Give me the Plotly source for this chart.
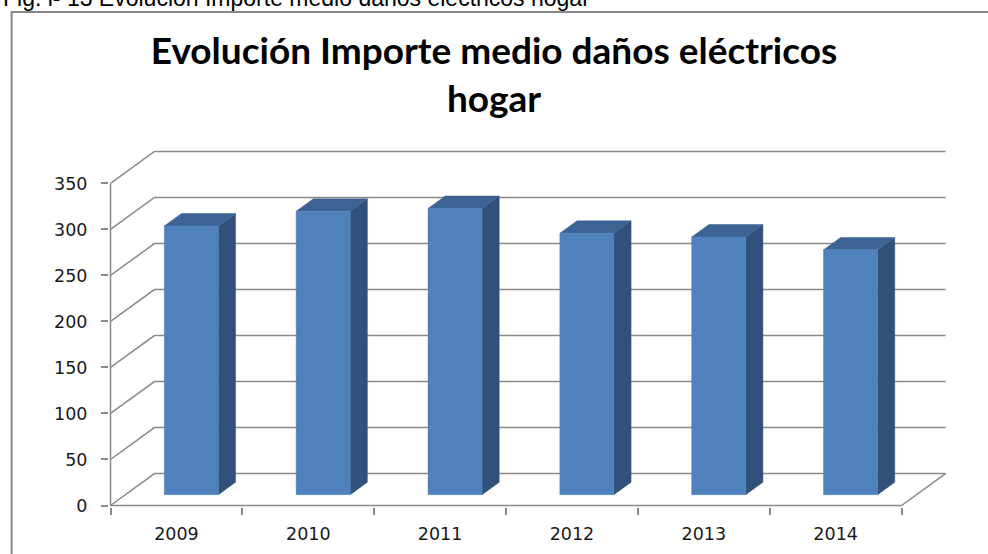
import plotly.graph_objects as go

# ---- data ----
years = ["2009", "2010", "2011", "2012", "2013", "2014"]
importe = [292, 308, 311, 284, 280, 266]
y_ticks = [0, 50, 100, 150, 200, 250, 300, 350]
title_text = "Evolución Importe medio daños eléctricos<br>hogar"
caption_text = "Fig. i- 13 Evolución Importe medio daños eléctricos hogar"

# ---- page geometry (pixels) ----
W, H = 988, 554
PX_CAT = 132.0            # pixels per category along the front edge
K_Y = 323.0 / 350.0       # pixels per value unit
AX_LEFT = 110             # pixel x of the front vertical axis
AX_BOTTOM = 506           # pixel y of the front floor edge
DEPTH_PX_X, DEPTH_PX_Y = 44.0, 32.0

n = len(years)
D = DEPTH_PX_X / PX_CAT   # depth offset in category units
DY = DEPTH_PX_Y / K_Y     # depth offset in value units
y_max_tick = y_ticks[-1]

pad_x = 1.5 / PX_CAT
pad_y = 1.5 / K_Y
x_range = [-0.5 - pad_x, n - 0.5 + D + pad_x]
y_range = [-pad_y, y_max_tick + DY + pad_y]

plot_w = (x_range[1] - x_range[0]) * PX_CAT
plot_h = (y_range[1] - y_range[0]) * K_Y
m_l = AX_LEFT - pad_x * PX_CAT
m_b = H - AX_BOTTOM - pad_y * K_Y
m_t = H - m_b - plot_h
m_r = W - m_l - plot_w


def px_to_paper_x(px):
    return (px - m_l) / plot_w


def px_to_paper_y(py):
    return (H - m_b - py) / plot_h


GRID = "#8a8a8a"
fig = go.Figure()

# back wall gridlines with the slanted connectors from the front axis
gx, gy = [], []
x0 = -0.5
for v in y_ticks:
    gx += [x0, x0 + D, n - 0.5 + D, None]
    gy += [v, v + DY, v + DY, None]
fig.add_trace(go.Scatter(x=gx, y=gy, mode="lines",
                         line=dict(color=GRID, width=1.5),
                         hoverinfo="skip", showlegend=False))

# floor front and right edges, front vertical axis
fx = [x0, n - 0.5, n - 0.5 + D, None, x0, x0]
fy = [0, 0, DY, None, 0, y_max_tick]
fig.add_trace(go.Scatter(x=fx, y=fy, mode="lines",
                         line=dict(color=GRID, width=1.5),
                         hoverinfo="skip", showlegend=False))

# 3D columns
FRONT, SIDE, TOP = "#4F81BD", "#31517B", "#3C6394"
hw = 0.205
f0, f1 = 0.34, 0.73
dx, dy = (f1 - f0) * D, (f1 - f0) * DY
for i, v in enumerate(importe):
    xl = i - hw + f0 * D
    xr = i + hw + f0 * D
    yb = f0 * DY
    yt = v + f0 * DY
    side = ([xr, xr + dx, xr + dx, xr, xr], [yb, yb + dy, yt + dy, yt, yb])
    top = ([xl, xr, xr + dx, xl + dx, xl], [yt, yt, yt + dy, yt + dy, yt])
    front = ([xl, xr, xr, xl, xl], [yb, yb, yt, yt, yb])
    for (px, py), col in ((side, SIDE), (top, TOP), (front, FRONT)):
        fig.add_trace(go.Scatter(x=px, y=py, mode="lines", fill="toself",
                                 fillcolor=col, line=dict(color=col, width=0.5),
                                 hoverinfo="skip", showlegend=False))

TICK_FONT = dict(family="DejaVu Sans", size=17.5, color="#1a1a1a")

fig.update_xaxes(range=x_range, showgrid=False, zeroline=False, showline=False,
                 automargin=False,
                 tickmode="array", tickvals=list(range(n)), ticktext=years,
                 ticks="", ticklabelstandoff=14, tickfont=TICK_FONT,
                 minor=dict(tickmode="array",
                            tickvals=[k - 0.5 for k in range(n + 1)],
                            ticks="outside", ticklen=7, tickwidth=1.5,
                            tickcolor=GRID, showgrid=False),
                 fixedrange=True)
fig.update_yaxes(range=y_range, showgrid=False, zeroline=False, showline=False,
                 automargin=False,
                 tickmode="array", tickvals=y_ticks,
                 ticktext=[str(t) for t in y_ticks],
                 ticks="outside", ticklen=7, tickwidth=1.5, tickcolor=GRID,
                 ticklabelstandoff=10, tickfont=TICK_FONT, fixedrange=True)

# chart frame
fig.add_shape(type="rect", xref="paper", yref="paper",
              x0=px_to_paper_x(11), x1=px_to_paper_x(W + 10),
              y0=px_to_paper_y(H + 10), y1=px_to_paper_y(11),
              line=dict(color="#888888", width=2), fillcolor="rgba(0,0,0,0)",
              layer="below")

# figure caption above the frame
fig.add_annotation(text=caption_text, xref="paper", yref="paper",
                   x=px_to_paper_x(0), y=px_to_paper_y(12),
                   xanchor="left", yanchor="bottom", showarrow=False,
                   font=dict(family="Liberation Sans", size=23, color="#000000"))

fig.update_layout(
    width=W, height=H,
    margin=dict(l=m_l, r=m_r, t=m_t, b=m_b, pad=0, autoexpand=False),
    paper_bgcolor="white", plot_bgcolor="white",
    title=dict(text=title_text, x=0.5, xref="container", xanchor="center",
               y=1 - 64 / H, yref="container", yanchor="middle",
               automargin=False,
               font=dict(family="Lato", size=37, color="#000000", weight="bold")),
    showlegend=False,
)

fig.write_html("out.html")
